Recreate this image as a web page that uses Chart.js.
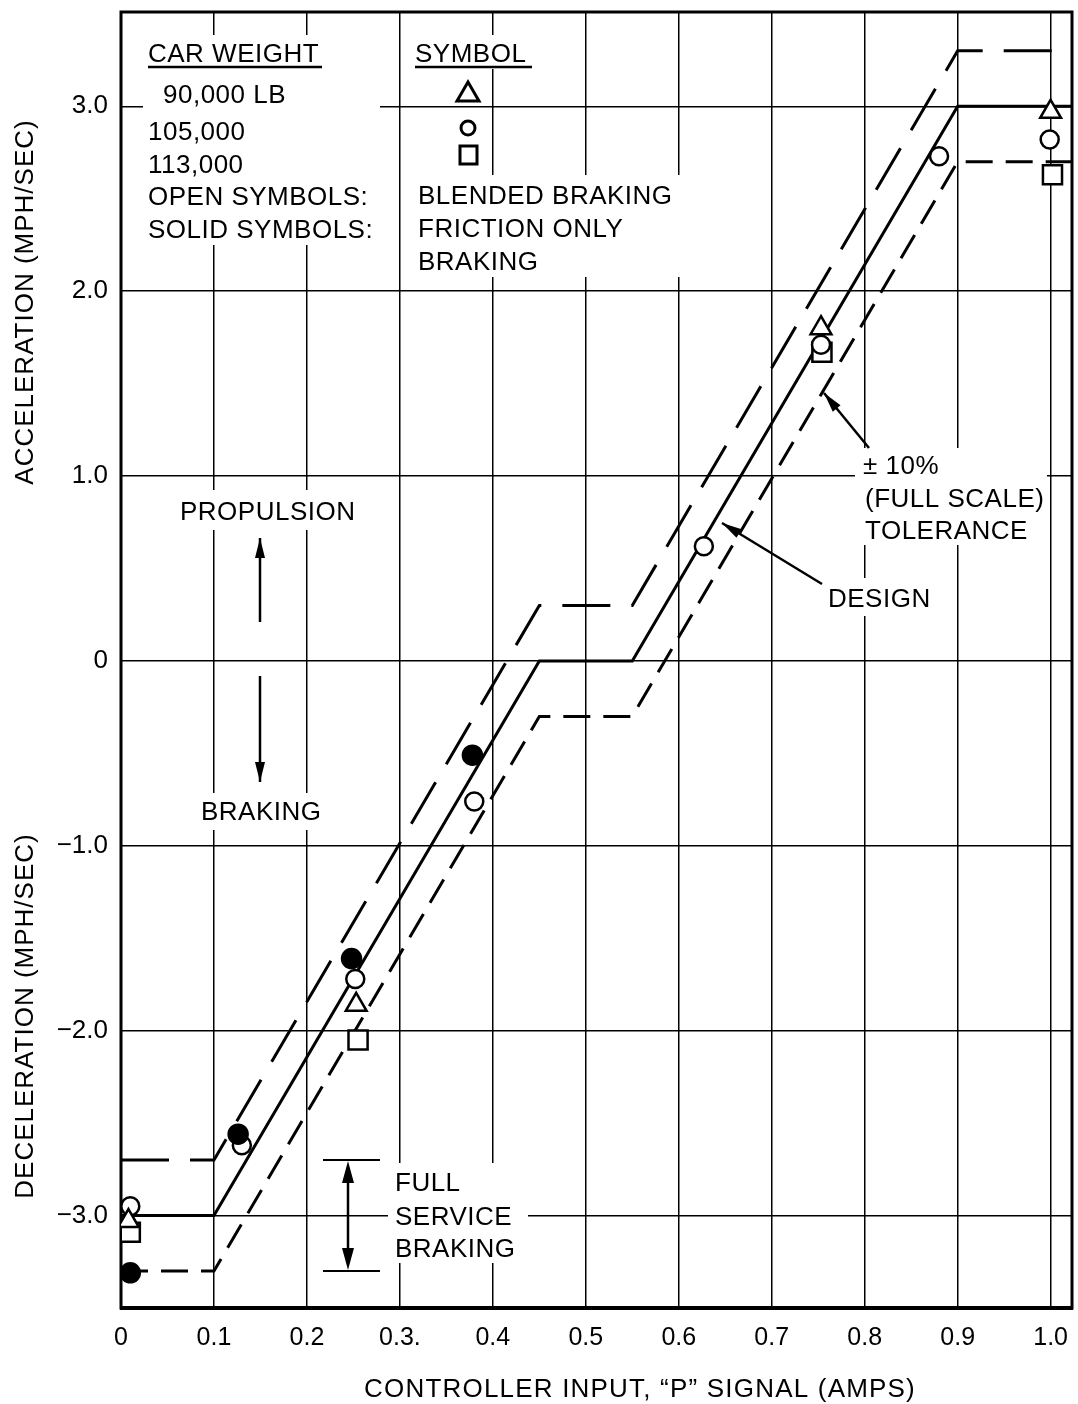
<!DOCTYPE html>
<html><head><meta charset="utf-8">
<script src="https://cdn.jsdelivr.net/npm/chart.js@4.4.1/dist/chart.umd.min.js"></script>
<style>html,body{margin:0;padding:0;background:#fff;}#wrap{width:1078px;height:1404px;}</style>
</head><body><div id="wrap"><canvas id="c" width="1078" height="1404"></canvas></div>
<script>
// ---- tick labels ----
const xTickValues = [0, 0.1, 0.2, 0.3, 0.4, 0.5, 0.6, 0.7, 0.8, 0.9, 1.0];
const xTickLabels = ['0', '0.1', '0.2', '0.3.', '0.4', '0.5', '0.6', '0.7', '0.8', '0.9', '1.0'];
const yTickValues = [-3, -2, -1, 0, 1, 2, 3];
const yTickLabels = ['\u22123.0', '\u22122.0', '\u22121.0', '0', '1.0', '2.0', '3.0'];

// ---- design curve and ±10% (full scale) tolerance band ----
const curveX    = [0, 0.1, 0.45, 0.55, 0.9, 1.023];
const designY   = [-3.0, -3.0, 0.0, 0.0, 3.0, 3.0];
const upperTolY = [-2.7, -2.7, 0.3, 0.3, 3.3, 3.3];
const lowerTolY = [-3.3, -3.3, -0.3, -0.3, 2.7, 2.7];

// ---- measured points ----
// 90,000 LB, blended braking (open triangles)
const tri90kX = [0.008, 0.253, 0.753, 1.0];
const tri90kY = [-3.03, -1.86, 1.80, 2.97];
// 105,000 LB, blended braking (open circles)
const circ105kX = [0.01, 0.13, 0.252, 0.38, 0.627, 0.753, 0.88, 0.999];
const circ105kY = [-2.95, -2.62, -1.72, -0.76, 0.62, 1.71, 2.73, 2.82];
// 105,000 LB, friction only braking (solid circles)
const solid105kX = [0.01, 0.126, 0.248, 0.378];
const solid105kY = [-3.31, -2.56, -1.61, -0.51];
// 113,000 LB, blended braking (open squares)
const sq113kX = [0.01, 0.255, 0.754, 1.002];
const sq113kY = [-3.09, -2.05, 1.67, 2.63];

const FONT = '"Liberation Sans", Arial, Helvetica, sans-serif';
const toXY = (xs, ys) => xs.map((x, i) => ({ x: x, y: ys[i] }));

const lineDs = (label, ys, dash, order) => ({
  label, data: toXY(curveX, ys), showLine: true, borderColor: '#000', borderWidth: 3,
  borderDash: dash, pointRadius: 0, fill: false, tension: 0, order,
  borderCapStyle: 'butt', borderJoinStyle: 'miter'
});
const ptDs = (label, xs, ys, style, r, filled, order) => ({
  label, data: toXY(xs, ys), showLine: false, pointStyle: style, pointRadius: r,
  pointBackgroundColor: filled ? '#000' : '#fff', pointBorderColor: '#000',
  pointBorderWidth: 2.5, order
});

const datasets = [
  ptDs('90,000 LB blended', tri90kX, tri90kY, 'triangle', 12, false, 0),
  ptDs('105,000 friction only', solid105kX, solid105kY, 'circle', 9.5, true, 1),
  ptDs('105,000 blended', circ105kX, circ105kY, 'circle', 9, false, 2),
  ptDs('113,000 blended', sq113kX, sq113kY, 'rect', 13.5, false, 3),
  lineDs('Design', designY, [], 4),
  lineDs('+10%', upperTolY, [48, 21], 5),
  lineDs('-10%', lowerTolY, [27, 13], 6)
];

function arrowHead(ctx, x1, y1, x2, y2, len, half) {
  const a = Math.atan2(y2 - y1, x2 - x1);
  ctx.beginPath();
  ctx.moveTo(x2, y2);
  ctx.lineTo(x2 - len * Math.cos(a) + half * Math.sin(a), y2 - len * Math.sin(a) - half * Math.cos(a));
  ctx.lineTo(x2 - len * Math.cos(a) - half * Math.sin(a), y2 - len * Math.sin(a) + half * Math.cos(a));
  ctx.closePath();
  ctx.fill();
}
function arrow(ctx, x1, y1, x2, y2) {
  ctx.beginPath(); ctx.moveTo(x1, y1); ctx.lineTo(x2, y2); ctx.stroke();
  arrowHead(ctx, x1, y1, x2, y2, 20, 5);
}

const annot = {
  id: 'annot',
  beforeDatasetsDraw(chart) {
    const ctx = chart.ctx, a = chart.chartArea;
    const Y = chart.scales.y;
    ctx.save();
    // white knock-outs behind text blocks (grid is interrupted there)
    ctx.fillStyle = '#fff';
    [[143, 35, 237, 210], [408, 35, 132, 34], [410, 175, 290, 102], [172, 490, 188, 40],
     [192, 793, 145, 37], [388, 1163, 140, 100], [855, 448, 192, 97], [820, 578, 118, 38]]
      .forEach(r => ctx.fillRect(r[0], r[1], r[2], r[3]));
    // frame
    ctx.strokeStyle = '#000'; ctx.lineWidth = 3;
    ctx.strokeRect(a.left, a.top, a.right - a.left, a.bottom - a.top);
    ctx.lineWidth = 4;
    ctx.beginPath(); ctx.moveTo(a.left - 1, a.bottom); ctx.lineTo(a.right + 1, a.bottom); ctx.stroke();

    // texts
    ctx.fillStyle = '#000';
    ctx.font = '26px ' + FONT;
    ctx.textAlign = 'left'; ctx.textBaseline = 'alphabetic';
    ctx.letterSpacing = '0.5px';
    const T = (s, x, y) => ctx.fillText(s, x, y);
    T('CAR WEIGHT', 148, 62);
    T('90,000 LB', 163, 103);
    T('105,000', 148, 140);
    T('113,000', 148, 173);
    T('OPEN SYMBOLS:', 148, 205);
    T('SOLID SYMBOLS:', 148, 238);
    T('SYMBOL', 415, 62);
    T('BLENDED BRAKING', 418, 204);
    T('FRICTION ONLY', 418, 237);
    T('BRAKING', 418, 270);
    T('PROPULSION', 180, 520);
    T('BRAKING', 201, 820);
    T('\u00B1 10%', 863, 474);
    T('(FULL SCALE)', 865, 507);
    T('TOLERANCE', 865, 539);
    T('DESIGN', 828, 607);
    T('FULL', 395, 1191);
    T('SERVICE', 395, 1225);
    T('BRAKING', 395, 1257);
    // underlines
    ctx.lineWidth = 2.5;
    ctx.beginPath(); ctx.moveTo(148, 67); ctx.lineTo(322, 67); ctx.moveTo(415, 67); ctx.lineTo(532, 67); ctx.stroke();

    // legend symbols
    ctx.lineWidth = 3; ctx.fillStyle = '#fff';
    ctx.beginPath(); ctx.moveTo(468, 82); ctx.lineTo(479, 101); ctx.lineTo(457, 101); ctx.closePath(); ctx.fill(); ctx.stroke();
    ctx.beginPath(); ctx.arc(468, 128, 7, 0, Math.PI * 2); ctx.fill(); ctx.stroke();
    ctx.beginPath(); ctx.rect(460, 146, 17, 18); ctx.fill(); ctx.stroke();

    // arrows
    ctx.fillStyle = '#000'; ctx.lineWidth = 2.5;
    arrow(ctx, 260, 622, 260, 538);
    arrow(ctx, 260, 676, 260, 782);
    arrow(ctx, 869, 448, 824, 393);
    arrow(ctx, 822, 584, 722, 523);
    // full service braking range marker (between -2.7 and -3.3)
    const yTop = Y.getPixelForValue(-2.7), yBot = Y.getPixelForValue(-3.3);
    ctx.lineWidth = 2;
    ctx.beginPath(); ctx.moveTo(323, yTop); ctx.lineTo(380, yTop); ctx.moveTo(323, yBot); ctx.lineTo(380, yBot); ctx.stroke();
    ctx.lineWidth = 2.5;
    ctx.beginPath(); ctx.moveTo(348, yTop + 10); ctx.lineTo(348, yBot - 10); ctx.stroke();
    arrowHead(ctx, 348, yBot, 348, yTop + 1, 22, 6);
    arrowHead(ctx, 348, yTop, 348, yBot - 1, 22, 6);

    // axis titles
    ctx.font = '26px ' + FONT;
    ctx.letterSpacing = '1px';
    ctx.textAlign = 'center';
    ctx.save(); ctx.translate(33, 302); ctx.rotate(-Math.PI / 2); ctx.fillText('ACCELERATION (MPH/SEC)', 0, 0); ctx.restore();
    ctx.save(); ctx.translate(33, 1016); ctx.rotate(-Math.PI / 2); ctx.fillText('DECELERATION (MPH/SEC)', 0, 0); ctx.restore();
    ctx.letterSpacing = '1.2px';
    ctx.fillText('CONTROLLER INPUT, \u201CP\u201D SIGNAL (AMPS)', 640, 1397);
    ctx.restore();
  }
};

const labelFor = (vals, labs, v) => {
  const i = vals.findIndex(t => Math.abs(t - v) < 1e-6);
  return i >= 0 ? labs[i] : '';
};

new Chart(document.getElementById('c'), {
  type: 'scatter',
  data: { datasets },
  options: {
    responsive: false, animation: false, devicePixelRatio: 1,
    layout: { autoPadding: false, padding: { top: 12, right: 6, left: 0, bottom: 0 } },
    plugins: { legend: { display: false }, tooltip: { enabled: false } },
    scales: {
      x: {
        type: 'linear', min: 0, max: 1.023,
        afterBuildTicks: s => { s.ticks = xTickValues.map(v => ({ value: v })); },
        afterFit: s => { s.height = 96; s.paddingLeft = 0; s.paddingRight = 0; },
        grid: { color: '#000', lineWidth: 1.5, drawTicks: false },
        border: { display: false },
        ticks: { padding: 15, color: '#000', font: { family: FONT, size: 25 }, maxRotation: 0, autoSkip: false,
          callback: v => labelFor(xTickValues, xTickLabels, v) }
      },
      y: {
        type: 'linear', min: -3.5, max: 3.51,
        afterBuildTicks: s => { s.ticks = yTickValues.map(v => ({ value: v })); },
        afterFit: s => { s.width = 121; s.paddingTop = 0; s.paddingBottom = 0; },
        grid: { color: '#000', lineWidth: 1.5, drawTicks: false },
        border: { display: false },
        ticks: { padding: 13, color: '#000', font: { family: FONT, size: 26 }, autoSkip: false,
          callback: v => labelFor(yTickValues, yTickLabels, v) }
      }
    }
  },
  plugins: [annot]
});
</script></body></html>
